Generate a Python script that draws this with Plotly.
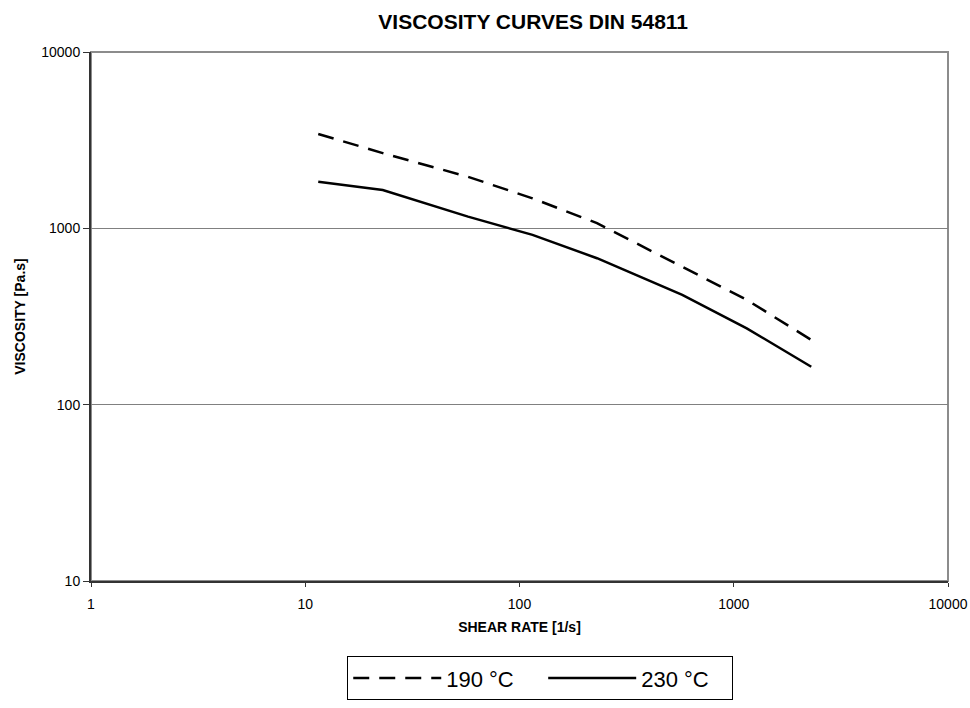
import plotly.graph_objects as go

shear_rate = [11.5, 23, 57.5, 115, 230, 575, 1150, 2300]
visc_190 = [3430, 2670, 1960, 1480, 1070, 606, 393, 233]
visc_230 = [1840, 1650, 1165, 918, 677, 419, 271, 164]

x_ticks = [1, 10, 100, 1000, 10000]
x_ticklabels = ["1", "10", "100", "1000", "10000"]
y_ticks = [10, 100, 1000, 10000]
y_ticklabels = ["10", "100", "1000", "10000"]

FONT = "Arial, Liberation Sans, sans-serif"

fig = go.Figure()
fig.add_trace(go.Scatter(x=shear_rate, y=visc_190, mode="lines",
                         name="190 °C\u00a0\u00a0\u00a0\u00a0",
                         line=dict(color="black", width=2.5, dash="16px,10px")))
fig.add_trace(go.Scatter(x=shear_rate, y=visc_230, mode="lines",
                         name="230 °C\u00a0\u00a0\u00a0",
                         line=dict(color="black", width=2.5)))

fig.update_layout(
    width=970, height=708,
    margin=dict(l=91, r=22, t=52, b=127, autoexpand=False),
    paper_bgcolor="white", plot_bgcolor="white",
    font=dict(family=FONT, color="black", size=14),
    title=dict(text="<b>VISCOSITY CURVES DIN 54811</b>", x=0.516, xref="paper",
               xanchor="center", y=1 - 22 / 708, yref="container", yanchor="middle",
               font=dict(size=21, family=FONT)),
    showlegend=True,
    legend=dict(orientation="h", x=0.299, xanchor="left", y=-0.142, yanchor="top",
                bordercolor="black", borderwidth=1, bgcolor="white",
                font=dict(size=22, family=FONT), itemwidth=88,
                traceorder="normal"),
    shapes=[dict(type="rect", xref="paper", yref="paper", x0=0, y0=0, x1=1, y1=1,
                 line=dict(color="#8c8c8c", width=2), layer="below")],
)
fig.update_xaxes(type="log", range=[0, 4], tickvals=x_ticks, ticktext=x_ticklabels,
                 automargin=False, ticklabelstandoff=5,
                 showgrid=False, zeroline=False, showline=True, linecolor="#333333",
                 linewidth=2, ticks="outside", ticklen=4, tickcolor="#333333",
                 tickfont=dict(size=14, family=FONT),
                 title=dict(text="<b>SHEAR RATE [1/s]</b>", font=dict(size=14, family=FONT), standoff=11))
fig.update_yaxes(type="log", range=[1, 4], tickvals=y_ticks, ticktext=y_ticklabels,
                 automargin=False,
                 showgrid=True, gridcolor="#808080", gridwidth=1, zeroline=False,
                 showline=True, linecolor="#333333", linewidth=2, ticks="outside",
                 ticklen=6, tickcolor="#333333",
                 tickfont=dict(size=14, family=FONT),
                 title=dict(text="<b>VISCOSITY [Pa.s]</b>", font=dict(size=14, family=FONT), standoff=12))

fig.write_html("out.html", config={"displayModeBar": False},
               post_script="document.body.style.margin='0';document.body.style.overflow='hidden';")
